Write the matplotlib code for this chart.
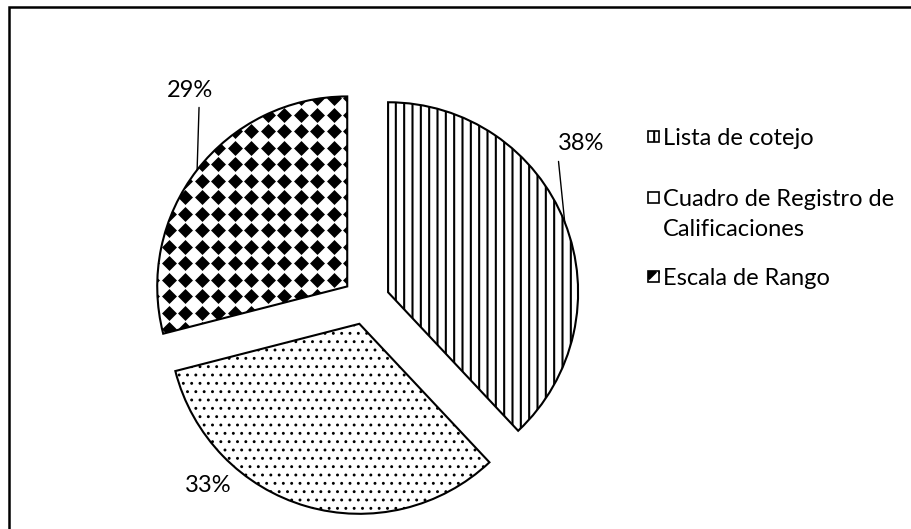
import numpy as np
import matplotlib.pyplot as plt
from matplotlib.patches import Rectangle

labels = ['Lista de cotejo', 'Cuadro de Registro de\nCalificaciones', 'Escala de Rango']
shares = [38, 33, 29]
pct_text = ['38%', '33%', '29%']
hatches = ['||', '..', None]

plt.rcParams['font.family'] = ['Lato', 'DejaVu Sans']
plt.rcParams['hatch.linewidth'] = 1.5

W, H = 911, 529
fig = plt.figure(figsize=(W / 100, H / 100), dpi=100)
ax = fig.add_axes([0, 0, 1, 1])

# pie centre and radius in pixels
cx, cy, R = 366, 301, 190


def px(x, y):
    # pixel position -> data coords
    return ((x - cx) / R, (cy - y) / R)


def diamonds(clip, x0, x1, y0, y1, step, s):
    gx = np.arange(x0, x1, step)
    gy = np.arange(y0, y1, step)
    GX, GY = np.meshgrid(gx, gy)
    d = ax.scatter(GX.ravel(), GY.ravel(), marker='D', s=s, color='black',
                   linewidths=0, zorder=3)
    d.set_clip_path(clip)


wedges, _ = ax.pie(shares, startangle=90, counterclock=False,
                   explode=[0.125] * 3, radius=1,
                   wedgeprops=dict(facecolor='white', edgecolor='black', linewidth=1.5))
for w, h in zip(wedges, hatches):
    if h:
        w.set_hatch(h)
if hasattr(wedges[1], 'set_hatch_linewidth'):
    wedges[1].set_hatch_linewidth(0.9)

# diamond pattern for the third wedge
w3 = wedges[2]
xc, yc = w3.center
diamonds(w3, xc - 1.2, xc + 0.2, yc - 0.4, yc + 1.2, 16.5 / R, 58)
w3.set_zorder(4)
w3.set_facecolor('none')

# percentage labels with leader lines
label_pos = [(581, 144), (208, 485), (190, 90)]
rel = [(0.0, 0.0), None, (0.7, 0.0)]
for w, t, (lx, ly), rp in zip(wedges, pct_text, label_pos, rel):
    mid = np.deg2rad((w.theta1 + w.theta2) / 2)
    x0 = w.center[0] + w.r * np.cos(mid)
    y0 = w.center[1] + w.r * np.sin(mid)
    if rp is None:
        ax.text(*px(lx, ly), t, ha='center', va='center', fontsize=17)
        continue
    ax.annotate(t, xy=(x0, y0), xytext=px(lx, ly), ha='center', va='center',
                fontsize=17,
                arrowprops=dict(arrowstyle='-', color='black', lw=1,
                                shrinkA=3, shrinkB=0, relpos=rp))

# legend, drawn by hand so the box sits on the first text line
base_y = [145, 206, 285]
for lab, by, h in zip(labels, base_y, ['||', '', None]):
    for i, line in enumerate(lab.split('\n')):
        ax.text(*px(663, by + 30 * i), line, ha='left', va='baseline', fontsize=17)
    x0, y0 = px(648, by - 3)
    x1, y1 = px(659, by - 14)
    box = Rectangle((x0, y0), x1 - x0, y1 - y0, facecolor='white', edgecolor='black',
                    linewidth=1.2, hatch=h if h else None, zorder=4)
    ax.add_patch(box)
    if h is None:
        box.set_facecolor('none')
        diamonds(box, x0 + 0.005, x1 + 0.05, y1 - 0.005, y1 + 0.05, 16.5 / R, 58)

ax.set_xlim(-cx / R, (W - cx) / R)
ax.set_ylim((cy - H) / R, cy / R)
ax.set_aspect('auto')
ax.axis('off')

# chart border (only top and left visible)
fig.patches.append(Rectangle((8.5 / W, -0.1), 1.2, 1 - 7 / H + 0.1, transform=fig.transFigure,
                             fill=False, edgecolor='black', linewidth=1.8))

fig.savefig('out.png', dpi=100, facecolor='white')
